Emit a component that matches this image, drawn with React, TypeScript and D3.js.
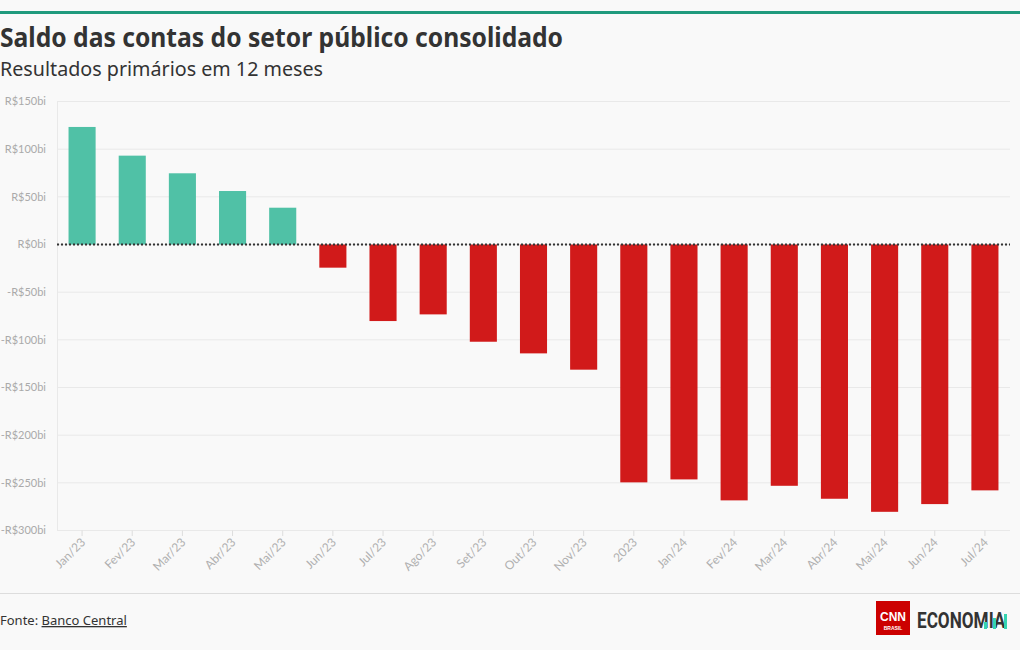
import React from "react";
import * as d3 from "d3";

const categories = ["Jan/23","Fev/23","Mar/23","Abr/23","Mai/23","Jun/23","Jul/23","Ago/23","Set/23","Out/23","Nov/23","2023","Jan/24","Fev/24","Mar/24","Abr/24","Mai/24","Jun/24","Jul/24"];
const values = [123.3, 93.2, 74.7, 56.1, 38.6, -24.3, -80.3, -73.3, -102, -114.2, -131.3, -249.5, -246.4, -268.4, -253.1, -266.7, -280.4, -272.3, -257.9];
const yTicks = [150, 100, 50, 0, -50, -100, -150, -200, -250, -300];

const W = 1020, H = 650;
const FONT = "'Noto Sans', 'Open Sans', sans-serif";
const AXFONT = "Lato, 'Noto Sans', sans-serif";

export default function App() {
  const x = d3.scaleBand<string>().domain(categories).range([57, 1010]).paddingInner(0.46).paddingOuter(0.23);
  const y = d3.scaleLinear().domain([-300, 150]).range([530.5, 101.5]);
  const fmt = (v: number) => (v < 0 ? "-" : "") + "R$" + Math.abs(v) + "bi";
  return (
    <svg width={W} height={H} style={{ position: "absolute", left: 0, top: 0, background: "#f9f9f9" }} fontFamily={FONT}>
      <rect x={0} y={0} width={W} height={H} fill="#f9f9f9" />
      <rect x={0} y={11} width={W} height={3} fill="#1f9a7d" />
      <text x={0} y={47} fontSize={26} fontWeight={700} fill="#333" textLength={563} lengthAdjust="spacingAndGlyphs">Saldo das contas do setor público consolidado</text>
      <text x={0} y={76} fontSize={20} fill="#333" textLength={323} lengthAdjust="spacingAndGlyphs">Resultados primários em 12 meses</text>
      {yTicks.map((t) => (
        <g key={t}>
          <line x1={57} x2={1010} y1={y(t)} y2={y(t)} stroke="#e9e9e9" strokeWidth={1} />
          <text x={46} y={y(t)} dy="0.35em" textAnchor="end" fontSize={11} fill="#aaa" fontFamily={AXFONT}>{fmt(t)}</text>
        </g>
      ))}
      <line x1={57.5} x2={57.5} y1={101.5} y2={530.5} stroke="#e9e9e9" />
      {categories.map((c, i) => {
        const v = values[i];
        const cx = (x(c) as number) + x.bandwidth() / 2;
        return (
          <g key={c}>
            <rect x={x(c)} width={x.bandwidth()} y={y(Math.max(0, v))} height={Math.abs(y(v) - y(0))} fill={v >= 0 ? "#50c1a6" : "#d11a1a"} />
            <line x1={cx} x2={cx} y1={530.5} y2={536} stroke="#ddd" />
            <text transform={`translate(${cx + 4},${543}) rotate(-45)`} textAnchor="end" fontSize={12} fill="#b0b0b0" fontFamily={AXFONT}>{c}</text>
          </g>
        );
      })}
      <line x1={57} x2={1010} y1={y(0)} y2={y(0)} stroke="#333" strokeWidth={2} strokeDasharray="2,2" />
      <line x1={0} x2={W} y1={593.5} y2={593.5} stroke="#ddd" />
      <text x={0} y={625} fontSize={13} fill="#333">Fonte: <tspan textDecoration="underline">Banco Central</tspan></text>
      <g>
        <rect x={876} y={601} width={34} height={34} fill="#cc0000" />
        <text x={893} y={621} textAnchor="middle" fontSize={12} fontWeight={700} fill="#fff" fontFamily="'Liberation Sans', sans-serif">CNN</text>
        <text x={893} y={630} textAnchor="middle" fontSize={5} fontWeight={700} fill="#fff" fontFamily="'Liberation Sans', sans-serif">BRASIL</text>
        <text transform="translate(917,628) scale(0.78,1)" fontSize={22} fontWeight={700} fill="#333" fontFamily="Roboto, sans-serif">ECONOMIA</text>
        <rect x={984} y={622} width={3} height={7} fill="#35d4b0" />
        <rect x={993} y={618} width={3} height={11} fill="#35d4b0" />
        <rect x={1004} y={614} width={3} height={15} fill="#35d4b0" />
      </g>
    </svg>
  );
}
